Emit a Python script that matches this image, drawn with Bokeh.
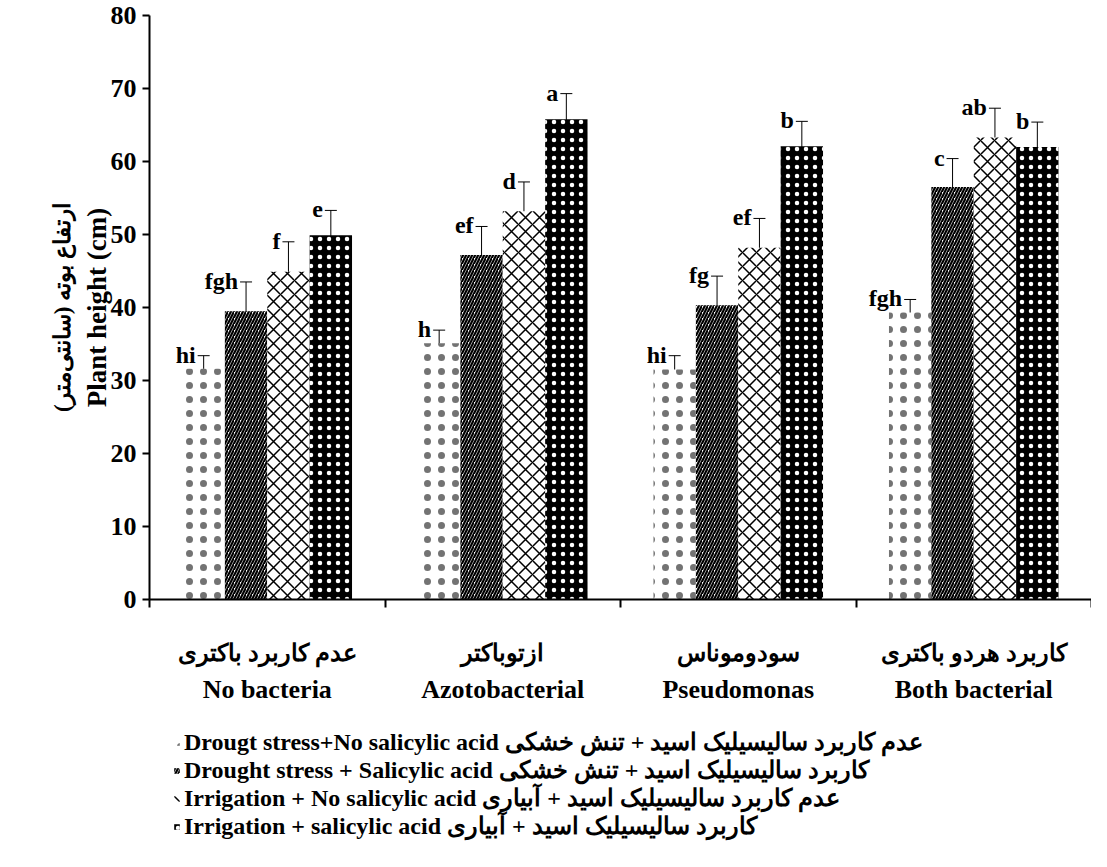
from bokeh.plotting import figure
from bokeh.layouts import column
from bokeh.models import (Range1d, LinearAxis, FixedTicker, ColumnDataSource, Whisker,
                          TeeHead, Legend, LegendItem)
from bokeh.core.properties import value
from bokeh.embed import file_html
from bokeh.resources import INLINE

# ---------------- data ----------------
categories_fa = ["عدم کاربرد باکتری", "ازتوباکتر", "سودوموناس", "کاربرد هردو باکتری"]
categories_en = ["No bacteria", "Azotobacterial", "Pseudomonas", "Both bacterial"]

series_en = ["Drougt stress+No salicylic acid",
             "Drought stress + Salicylic acid",
             "Irrigation + No salicylic acid",
             "Irrigation + salicylic acid"]
series_fa = ["عدم کاربرد سالیسیلیک اسید + تنش خشکی",
             "کاربرد سالیسیلیک اسید + تنش خشکی",
             "عدم کاربرد سالیسیلیک اسید + آبیاری",
             "کاربرد سالیسیلیک اسید + آبیاری"]

drought_no_sa = [31.6, 35.1, 31.5, 39.3]
drought_sa = [39.5, 47.2, 40.3, 56.5]
irrig_no_sa = [44.9, 53.2, 48.2, 63.3]
irrig_sa = [49.9, 65.8, 62.1, 62.0]

err_drought_no_sa = [1.8, 1.8, 1.9, 1.8]
err_drought_sa = [4.0, 3.9, 4.0, 3.9]
err_irrig_no_sa = [4.1, 4.0, 4.0, 4.0]
err_irrig_sa = [3.4, 3.5, 3.4, 3.4]

let_drought_no_sa = ["hi", "h", "hi", "fgh"]
let_drought_sa = ["fgh", "ef", "fg", "c"]
let_irrig_no_sa = ["f", "d", "ef", "ab"]
let_irrig_sa = ["e", "a", "b", "b"]

y_ticks = [0, 10, 20, 30, 40, 50, 60, 70, 80]
# ---------------------------------------

SERIF = "Liberation Serif"
W = 1091
H_MAIN = 720
H_LEG = 130
LEFT = 149

p = figure(width=W, height=H_MAIN, output_backend="svg", toolbar_location=None,
           x_range=Range1d(0, 4), y_range=Range1d(0, 80),
           x_axis_type=None, y_axis_type=None,
           min_border_top=15, min_border_right=0, min_border_left=LEFT,
           min_border_bottom=H_MAIN - 599)
p.outline_line_color = None
p.grid.visible = False
p.background_fill_color = "white"
p.border_fill_color = "white"

# y axis
yax = LinearAxis(ticker=FixedTicker(ticks=y_ticks), axis_label="Plant height (cm)")
yax.axis_line_width = 2
yax.axis_line_color = "black"
yax.major_tick_out = 7
yax.major_tick_in = 0
yax.major_tick_line_width = 2
yax.minor_tick_line_color = None
yax.major_label_text_font = SERIF
yax.major_label_text_font_style = "bold"
yax.major_label_text_font_size = "26px"
yax.major_label_text_color = "black"
yax.major_label_standoff = 6
yax.axis_label_text_font = SERIF
yax.axis_label_text_font_style = "bold"
yax.axis_label_text_font_size = "27px"
yax.axis_label_text_color = "black"
yax.axis_label_standoff = -4
p.add_layout(yax, "left")

yax2 = LinearAxis(ticker=FixedTicker(ticks=[]), axis_label="ارتفاع بوته (سانتی‌متر)")
yax2.axis_line_color = None
yax2.major_tick_line_color = None
yax2.minor_tick_line_color = None
yax2.major_label_text_font_size = "0px"
yax2.axis_label_text_font = SERIF
yax2.axis_label_text_font_style = "bold"
yax2.axis_label_text_font_size = "23px"
yax2.axis_label_text_color = "black"
yax2.axis_label_standoff = 4
p.add_layout(yax2, "left")

# x axis with separators
ncat = len(categories_en)
xax = LinearAxis(ticker=FixedTicker(ticks=list(range(ncat + 1))))
xax.axis_line_width = 2
xax.axis_line_color = "black"
xax.major_tick_out = 8
xax.major_tick_in = 0
xax.major_tick_line_width = 2
xax.minor_tick_line_color = None
xax.major_label_overrides = {i: "" for i in range(ncat + 1)}
xax.major_label_text_font_size = "1px"
xax.major_label_standoff = 0
p.add_layout(xax, "below")

centers = [i + 0.5 for i in range(ncat)]
xax_fa = LinearAxis(ticker=FixedTicker(ticks=centers))
xax_fa.axis_line_color = None
xax_fa.major_tick_line_color = None
xax_fa.minor_tick_line_color = None
xax_fa.major_label_overrides = {c: t for c, t in zip(centers, categories_fa)}
xax_fa.major_label_text_font = SERIF
xax_fa.major_label_text_font_style = "bold"
xax_fa.major_label_text_font_size = "24px"
xax_fa.major_label_text_color = "black"
xax_fa.major_label_standoff = 26
p.add_layout(xax_fa, "below")

xax_en = LinearAxis(ticker=FixedTicker(ticks=centers))
xax_en.axis_line_color = None
xax_en.major_tick_line_color = None
xax_en.minor_tick_line_color = None
xax_en.major_label_overrides = {c: t for c, t in zip(centers, categories_en)}
xax_en.major_label_text_font = SERIF
xax_en.major_label_text_font_style = "bold"
xax_en.major_label_text_font_size = "26px"
xax_en.major_label_text_color = "black"
xax_en.major_label_standoff = 0
p.add_layout(xax_en, "below")

# bars
all_vals = [drought_no_sa, drought_sa, irrig_no_sa, irrig_sa]
all_errs = [err_drought_no_sa, err_drought_sa, err_irrig_no_sa, err_irrig_sa]
all_lets = [let_drought_no_sa, let_drought_sa, let_irrig_no_sa, let_irrig_sa]
offsets = [-0.27, -0.09, 0.09, 0.27]
bar_w = 0.18

styles = [
    dict(fill_color="white", hatch_pattern="dot", hatch_color="black", hatch_scale=14,
         hatch_weight=0.4, hatch_alpha=0.55),
    dict(fill_color="white", hatch_pattern="right_diagonal_line", hatch_color="black", hatch_scale=6, hatch_weight=2.2),
    dict(fill_color="white", hatch_pattern="diagonal_cross", hatch_color="black", hatch_scale=14, hatch_weight=1.5),
    dict(fill_color="black", hatch_pattern="dot", hatch_color="white", hatch_scale=9, hatch_weight=0.3),
]

# legend figure (frames are aligned with the main plot by the column layout)
pl = figure(width=W, height=H_LEG, output_backend="svg", toolbar_location=None,
            x_range=Range1d(0, 1), y_range=Range1d(0, 1),
            x_axis_type=None, y_axis_type=None,
            min_border_left=LEFT, min_border_right=0, min_border_top=0, min_border_bottom=0)
pl.outline_line_color = None
pl.grid.visible = False
pl.background_fill_color = "white"
pl.border_fill_color = "white"

items = []
for k in range(4):
    xs = [c + offsets[k] for c in centers]
    src = ColumnDataSource(dict(
        x=xs, top=all_vals[k],
        upper=[v + e for v, e in zip(all_vals[k], all_errs[k])],
        lower=[v - e for v, e in zip(all_vals[k], all_errs[k])],
        letter=all_lets[k]))
    p.vbar(x="x", top="top", bottom=0, width=bar_w, source=src, line_color=None, **styles[k])
    w = Whisker(source=src, base="x", upper="upper", lower="lower",
                line_color="black", line_width=1,
                upper_head=TeeHead(size=12, line_color="black", line_width=1),
                lower_head=TeeHead(size=12, line_color="black", line_width=1))
    p.add_layout(w)
    p.text(x="x", y="upper", text="letter", source=src, text_align="right",
           text_baseline="middle", x_offset=-8, y_offset=-1,
           text_font=value(SERIF), text_font_style="bold", text_font_size="24px",
           text_color="black")
    # legend proxy (zero-height, draws nothing) in the legend figure
    rl = pl.vbar(x=[0.5], top=[0], bottom=[0], width=0.01, line_color=None, **styles[k])
    items.append(LegendItem(label=series_en[k] + " " + series_fa[k], renderers=[rl]))

legend = Legend(items=items, location=(24, 10), orientation="vertical")
legend.border_line_color = None
legend.background_fill_alpha = 0
legend.glyph_width = 7
legend.glyph_height = 7
legend.label_standoff = 4
legend.label_text_font = SERIF
legend.label_text_font_style = "bold"
legend.label_text_font_size = "24px"
legend.label_text_color = "black"
legend.label_height = 24
legend.spacing = 0
legend.padding = 2
legend.margin = 0
pl.add_layout(legend)

layout = column(p, pl, spacing=0)
open("out.html", "w").write(file_html(layout, INLINE))
